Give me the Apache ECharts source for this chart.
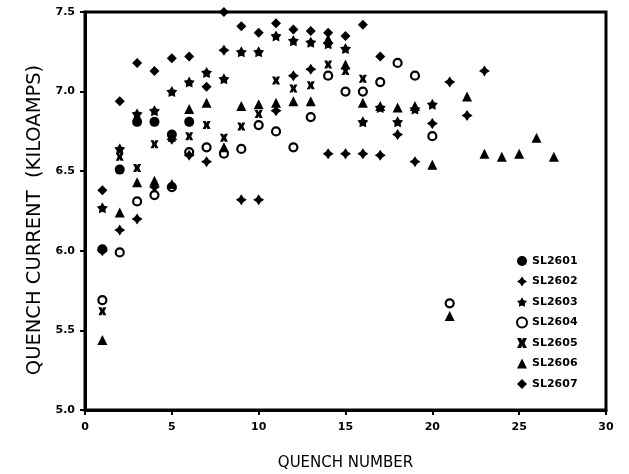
<!DOCTYPE html>
<html>
<head>
<meta charset="utf-8">
<script src="https://cdn.jsdelivr.net/npm/echarts@6/dist/echarts.min.js"></script>
<style>
html,body{margin:0;padding:0;background:#fff;}
#chart{width:629px;height:474px;}
</style>
</head>
<body>
<div id="chart"></div>
<script>
// Quench currents (kA) indexed by quench number (index 0 = quench 1)
var seriesNames = ['SL2601','SL2602','SL2603','SL2604','SL2605','SL2606','SL2607'];
var sl2601 = [6.01, 6.51, 6.81, 6.81, 6.73, 6.81];
var sl2602 = [6.00, 6.13, 6.20, 6.40, 6.70, 6.60, 6.56, 7.26, 6.32, 6.32, 6.88, 7.10, 7.14, 6.61, 6.61, 6.61, 6.60, 6.73, 6.56, 6.80, 7.06, 6.85, 7.13];
var sl2603 = [6.27, 6.64, 6.86, 6.88, 7.00, 7.06, 7.12, 7.08, 7.25, 7.25, 7.35, 7.32, 7.31, 7.30, 7.27, 6.81, 6.90, 6.81, 6.89, 6.92];
var sl2604 = [5.69, 5.99, 6.31, 6.35, 6.40, 6.62, 6.65, 6.61, 6.64, 6.79, 6.75, 6.65, 6.84, 7.10, 7.00, 7.00, 7.06, 7.18, 7.10, 6.72, 5.67];
var sl2605 = [5.62, 6.59, 6.52, 6.67, 6.71, 6.72, 6.79, 6.71, 6.78, 6.86, 7.07, 7.02, 7.04, 7.17, 7.13, 7.08];
var sl2606 = [5.44, 6.24, 6.43, 6.44, 6.42, 6.89, 6.93, 6.65, 6.91, 6.92, 6.93, 6.94, 6.94, 7.33, 7.17, 6.93, 6.91, 6.90, 6.91, 6.54, 5.59, 6.97, 6.61, 6.59, 6.61, 6.71, 6.59];
var sl2607 = [6.38, 6.94, 7.18, 7.13, 7.21, 7.22, 7.03, 7.50, 7.41, 7.37, 7.43, 7.39, 7.38, 7.37, 7.35, 7.42, 7.22];
var xTicks = [0, 5, 10, 15, 20, 25, 30];
var yTicks = [5.0, 5.5, 6.0, 6.5, 7.0, 7.5];

var allValues = [sl2601, sl2602, sl2603, sl2604, sl2605, sl2606, sl2607];

var PLUS = 'path://M0,-10 L4,-4 L10,0 L4,4 L0,10 L-4,4 L-10,0 L-4,-4 Z';
var STAR = 'path://M0,-10 L3.3,-4.5 L9.51,-3.09 L5.3,1.7 L5.88,8.09 L0,5.6 L-5.88,8.09 L-5.3,1.7 L-9.51,-3.09 L-3.3,-4.5 Z';
var XMARK = 'path://M-10,-10 L-2,-10 L0,-5 L2,-10 L10,-10 L5,0 L10,10 L2,10 L0,5 L-2,10 L-10,10 L-5,0 Z';
var symbols = ['circle', PLUS, STAR, 'circle', XMARK, 'triangle', 'diamond'];
var sizes = [10, 11, 11, 8, 8, 10, 10];

function toPairs(arr){ return arr.map(function(v,i){ return [i+1, v]; }); }

var series = seriesNames.map(function(name, k){
  var open = (k === 3);
  return {
    name: name,
    type: 'scatter',
    data: toPairs(allValues[k]),
    symbol: symbols[k],
    symbolSize: sizes[k],
    clip: false,
    itemStyle: open ? {color: 'rgba(255,255,255,0)', borderColor: '#000', borderWidth: 2.2, opacity: 1}
                    : {color: '#000', opacity: 1},
    emphasis: {disabled: true}
  };
});

var chart = echarts.init(document.getElementById('chart'), null, {renderer: 'canvas'});
chart.setOption({
  animation: false,
  backgroundColor: '#fff',
  textStyle: {fontFamily: 'DejaVu Sans'},
  grid: {left: 85, right: 23, top: 12, bottom: 64, show: true, borderColor: '#000', borderWidth: 3,
         containLabel: false, outerBoundsMode: 'none'},
  legend: {
    orient: 'vertical',
    left: 511,
    top: 250,
    itemWidth: 10,
    itemHeight: 10,
    itemGap: 8.5,
    textStyle: {fontFamily: 'DejaVu Sans', fontWeight: 'bold', fontSize: 11, color: '#000', lineHeight: 12},
    data: seriesNames
  },
  xAxis: {
    type: 'value',
    min: xTicks[0], max: xTicks[xTicks.length-1], interval: 5,
    name: 'QUENCH NUMBER',
    nameLocation: 'middle',
    nameGap: 46,
    nameTextStyle: {fontFamily: 'DejaVu Sans', fontSize: 15, color: '#000'},
    axisLine: {show: true, lineStyle: {color: '#000', width: 3}},
    axisTick: {show: true, inside: false, length: 5, lineStyle: {color: '#000', width: 2}},
    axisLabel: {color: '#000', fontFamily: 'DejaVu Sans', fontWeight: 'bold', fontSize: 11, margin: 12},
    splitLine: {show: false}
  },
  yAxis: {
    type: 'value',
    min: yTicks[0], max: yTicks[yTicks.length-1], interval: 0.5,
    name: 'QUENCH CURRENT  (KILOAMPS)',
    nameLocation: 'middle',
    nameGap: 33,
    nameRotate: 90,
    nameTextStyle: {fontFamily: 'DejaVu Sans', fontSize: 19.5, color: '#000', padding: [0, 18, 0, 0]},
    axisLine: {show: true, lineStyle: {color: '#000', width: 3}},
    axisTick: {show: true, inside: false, length: 5, lineStyle: {color: '#000', width: 2}},
    axisLabel: {color: '#000', fontFamily: 'DejaVu Sans', fontWeight: 'bold', fontSize: 11, margin: 10,
      formatter: function(v){ return v.toFixed(1); }},
    splitLine: {show: false}
  },
  series: series
});
</script>
</body>
</html>
